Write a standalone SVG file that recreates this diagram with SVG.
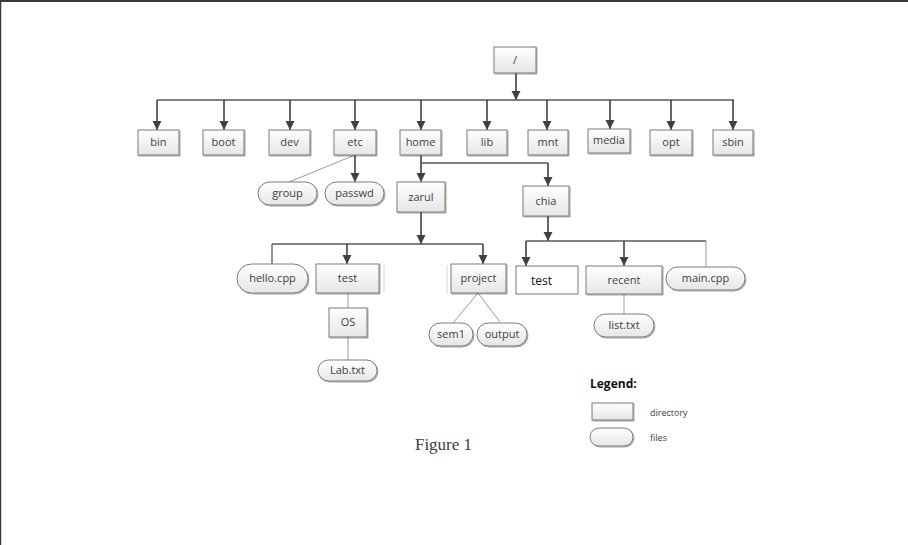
<svg xmlns="http://www.w3.org/2000/svg" width="908" height="545" viewBox="0 0 908 545">
<defs>
<linearGradient id="g" x1="0" y1="0" x2="0" y2="1">
<stop offset="0" stop-color="#ffffff"/>
<stop offset="1" stop-color="#e6e6e6"/>
</linearGradient>
<filter id="sh" x="-10%" y="-10%" width="130%" height="140%">
<feDropShadow dx="1" dy="1" stdDeviation="0.6" flood-color="#000" flood-opacity="0.35"/>
</filter>
<marker id="ar" markerUnits="userSpaceOnUse" markerWidth="10" markerHeight="10" refX="9" refY="4.5" orient="auto" viewBox="0 0 10 10">
<path d="M0,0 L9,4.5 L0,9 z" fill="#404040"/>
</marker>
<style>
.d{fill:url(#g);stroke:#7a7a7a;stroke-width:1;filter:url(#sh)}
.w{fill:#fff;stroke:#7a7a7a;stroke-width:1}
.t{font-family:"Open Sans","Noto Sans","DejaVu Sans",sans-serif;font-size:11px;fill:#404040;text-anchor:middle}
.c{fill:none;stroke:#595959;stroke-width:1.3}
.a{fill:none;stroke:#404040;stroke-width:1.6;marker-end:url(#ar)}
.l{fill:none;stroke:#7f7f7f;stroke-width:0.8}
.f{fill:none;stroke:#d6d6d6;stroke-width:1}
</style>
</defs>
<rect x="0" y="0" width="908" height="545" fill="#fff"/>
<line x1="0" y1="1" x2="908" y2="1" stroke="#3a3a3a" stroke-width="2"/>
<line x1="0.5" y1="0" x2="0.5" y2="545" stroke="#3a3a3a" stroke-width="1.5"/>

<g id="connectors">
<path class="a" d="M516,73 V100"/>
<path class="c" d="M157,100 H734"/>
<path class="a" d="M157,100 V130"/>
<path class="a" d="M224,100 V130"/>
<path class="a" d="M290,100 V130"/>
<path class="a" d="M355,100 V130"/>
<path class="a" d="M421,100 V130"/>
<path class="a" d="M487,100 V130"/>
<path class="a" d="M547,100 V130"/>
<path class="a" d="M610,100 V129"/>
<path class="a" d="M671,100 V130"/>
<path class="a" d="M733,100 V130"/>
<path class="a" d="M355,155 V182"/>
<path class="l" d="M355,155 L289,182"/>
<path class="a" d="M421,155 V182"/>
<path class="c" d="M421,163 H548"/>
<path class="a" d="M548,163 V186"/>
<path class="a" d="M421,212 V244"/>
<path class="c" d="M272,244 H483"/>
<path class="c" d="M272,244 V264"/>
<path class="a" d="M347,244 V264"/>
<path class="a" d="M483,244 V264"/>
<path class="l" d="M348,293 V308"/>
<path class="l" d="M348,337 V360"/>
<path class="l" d="M478,293 L453,323"/>
<path class="l" d="M478,293 L500,322"/>
<path class="a" d="M548,216 V241"/>
<path class="c" d="M526,241 H706"/>
<path class="a" d="M526,241 V266"/>
<path class="a" d="M624,241 V266"/>
<path class="l" d="M706,241 V267"/>
<path class="l" d="M624,294 V314"/>
<path class="f" d="M384,265 V293"/>
<path class="f" d="M447,265 V293"/>
</g>

<g id="root"><rect class="d" x="494" y="47" width="42" height="26"/><text class="t" x="515" y="64">/</text></g>
<g id="bin"><rect class="d" x="138" y="130" width="41" height="25"/><text class="t" x="158.5" y="146">bin</text></g>
<g id="boot"><rect class="d" x="203" y="130" width="41" height="25"/><text class="t" x="223.5" y="146">boot</text></g>
<g id="dev"><rect class="d" x="269" y="130" width="41" height="25"/><text class="t" x="289.5" y="146">dev</text></g>
<g id="etc"><rect class="d" x="334" y="130" width="42" height="25"/><text class="t" x="355" y="146">etc</text></g>
<g id="home"><rect class="d" x="400" y="130" width="41" height="25"/><text class="t" x="420.5" y="146">home</text></g>
<g id="lib"><rect class="d" x="467" y="130" width="40" height="25"/><text class="t" x="487" y="146">lib</text></g>
<g id="mnt"><rect class="d" x="528" y="130" width="40" height="25"/><text class="t" x="548" y="146">mnt</text></g>
<g id="media"><rect class="d" x="588" y="129" width="42" height="24"/><text class="t" x="609" y="144">media</text></g>
<g id="opt"><rect class="d" x="650" y="130" width="42" height="25"/><text class="t" x="671" y="146">opt</text></g>
<g id="sbin"><rect class="d" x="713" y="130" width="40" height="25"/><text class="t" x="733" y="146">sbin</text></g>

<g id="group"><rect class="d" x="258" y="182" width="59" height="23" rx="11.5"/><text class="t" x="287.5" y="197" font-size="10">group</text></g>
<g id="passwd"><rect class="d" x="325" y="182" width="59" height="23" rx="11.5"/><text class="t" x="354.5" y="197" font-size="10">passwd</text></g>
<g id="zarul"><rect class="d" x="397" y="182" width="48" height="30"/><text class="t" x="421" y="201" font-size="10">zarul</text></g>
<g id="chia"><rect class="d" x="523" y="186" width="46" height="30"/><text class="t" x="546" y="205" font-size="10">chia</text></g>

<g id="hello_cpp"><rect class="d" x="237" y="264" width="71" height="29" rx="14.5"/><text class="t" x="272.5" y="282">hello.cpp</text></g>
<g id="test_zarul"><rect class="d" x="316" y="264" width="63" height="29"/><text class="t" x="347.5" y="282">test</text></g>
<g id="project"><rect class="d" x="451" y="264" width="55" height="29"/><text class="t" x="478.5" y="282">project</text></g>
<g id="os"><rect class="d" x="329" y="308" width="38" height="29"/><text class="t" x="348" y="326">OS</text></g>
<g id="lab_txt"><rect class="d" x="318" y="360" width="59" height="21" rx="10.5"/><text class="t" x="347.5" y="374">Lab.txt</text></g>
<g id="sem1"><rect class="d" x="429" y="323" width="44" height="23" rx="11.5"/><text class="t" x="451" y="338">sem1</text></g>
<g id="output"><rect class="d" x="477" y="323" width="50" height="23" rx="11.5"/><text class="t" x="502" y="338">output</text></g>

<g id="test_chia"><rect class="w" x="516" y="266" width="62" height="28"/><text x="531" y="285" font-family="Open Sans, Noto Sans, sans-serif" font-size="12" fill="#111">test</text></g>
<g id="recent"><rect class="d" x="586" y="266" width="76" height="28"/><text class="t" x="624" y="284">recent</text></g>
<g id="main_cpp"><rect class="d" x="666" y="267" width="79" height="23" rx="11.5"/><text class="t" x="705.5" y="282">main.cpp</text></g>
<g id="list_txt"><rect class="d" x="594" y="314" width="60" height="23" rx="11.5"/><text class="t" x="624" y="329">list.txt</text></g>

<g id="legend">
<text x="590" y="388" font-family="Open Sans, Noto Sans, sans-serif" font-size="12" font-weight="bold" fill="#111">Legend:</text>
<rect class="d" x="592" y="403" width="41" height="17"/>
<text x="650" y="416" font-family="Open Sans, Noto Sans, sans-serif" font-size="9" fill="#404040">directory</text>
<rect class="d" x="590" y="428" width="43" height="18" rx="9"/>
<text x="650" y="441" font-family="Open Sans, Noto Sans, sans-serif" font-size="9" fill="#404040">files</text>
</g>
<text x="443.5" y="450" text-anchor="middle" font-family="Liberation Serif, serif" font-size="17" fill="#404040">Figure 1</text>
</svg>
